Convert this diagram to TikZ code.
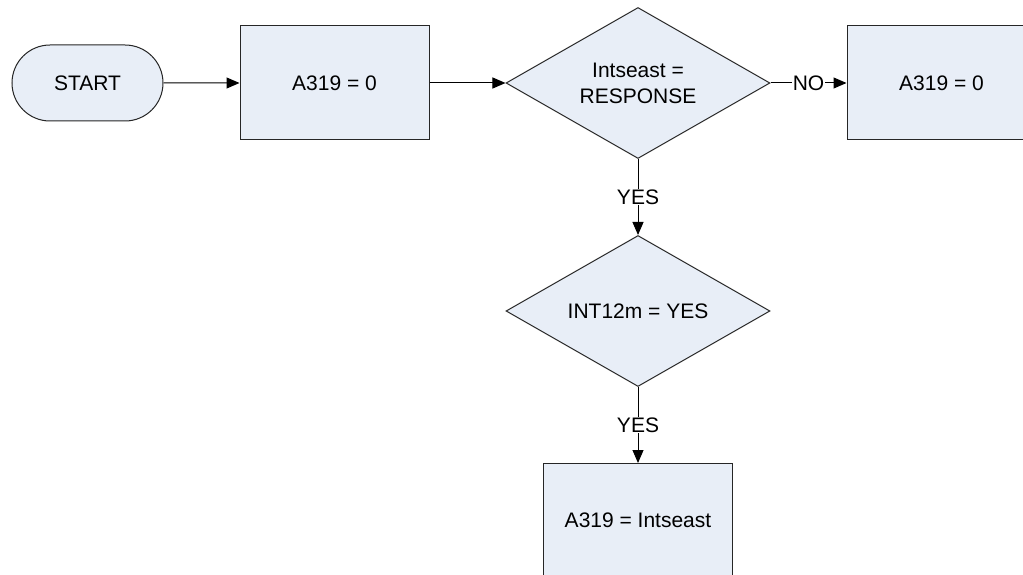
\documentclass[tikz,border=0pt]{standalone}
\usepackage{fontspec}
\setmainfont{Liberation Sans}
\usetikzlibrary{arrows.meta,positioning,shapes.geometric,shapes.misc}
\definecolor{boxfill}{RGB}{232,238,247}

\begin{document}
\begin{tikzpicture}[
  x=1pt, y=1pt,
  base/.style={draw=black!85, fill=boxfill, line width=1pt, font=\fontsize{21}{26}\selectfont, align=center},
  terminal/.style={base, rounded rectangle, minimum width=151pt, minimum height=76pt, inner sep=0pt},
  process/.style={base, rectangle, minimum width=189pt, minimum height=114pt, inner sep=0pt},
  decision/.style={base, diamond, aspect=1.75, minimum width=264pt, minimum height=151pt, inner sep=0pt},
  arrow/.style={-{Triangle[length=13pt, width=11pt]}, line width=1pt},
  answer/.style={fill=white, inner sep=1pt, font=\fontsize{21}{26}\selectfont},
  node distance=76pt
]
\path[use as bounding box, clip] (0,0) rectangle (1023,-575);
\node[terminal] (start) at (87.5,-83) {START};
\node[process, right=of start] (init) {A319 = 0};
\node[decision, right=of init] (chkresp) {Intseast =\\RESPONSE};
\node[process, right=of chkresp] (setzero) {A319 = 0};
\node[decision, below=of chkresp] (chk12m) {INT12m = YES};
\node[process, below=of chk12m] (setval) {A319 = Intseast};
\draw[arrow] (start) -- (init);
\draw[arrow] (init) -- (chkresp);
\draw[arrow] (chkresp) -- node[answer] {NO} (setzero);
\draw[arrow] (chkresp) -- node[answer] {YES} (chk12m);
\draw[arrow] (chk12m) -- node[answer] {YES} (setval);
\end{tikzpicture}
\end{document}
